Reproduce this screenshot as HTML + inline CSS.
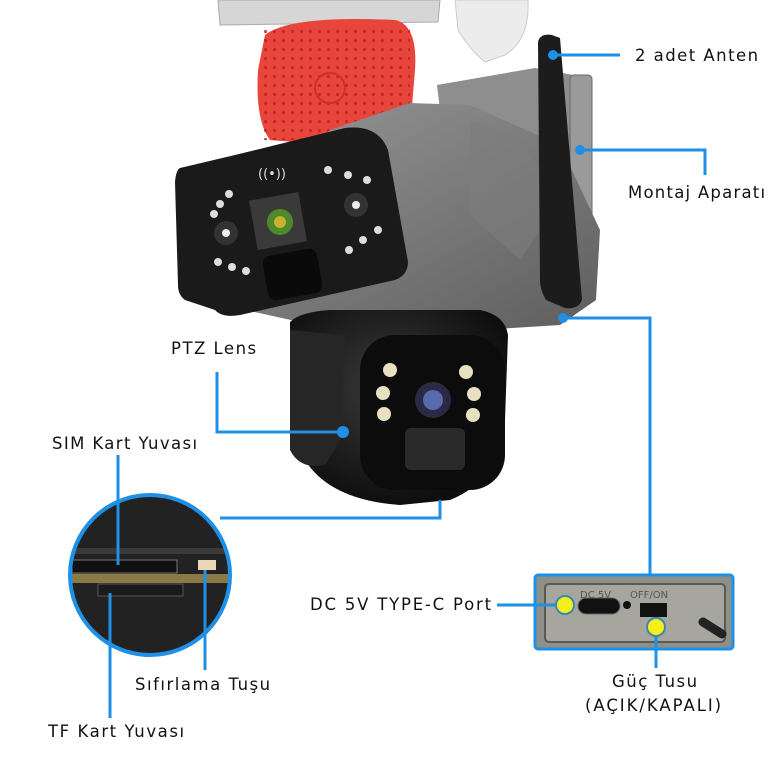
<!DOCTYPE html>
<html><head><meta charset="utf-8"><style>
html,body{margin:0;padding:0;background:#fff;}
svg{display:block;}
text{font-family:"DejaVu Sans","Liberation Sans",sans-serif;font-size:16.5px;fill:#111;letter-spacing:0.9px;}
</style></head><body>
<svg width="780" height="780" viewBox="0 0 780 780" xmlns="http://www.w3.org/2000/svg">
<defs>
<linearGradient id="gb" x1="0" y1="0" x2="1" y2="1"><stop offset="0" stop-color="#9a9a9a"/><stop offset="1" stop-color="#5e5e5e"/></linearGradient>
<radialGradient id="dome" cx="0.45" cy="0.4" r="0.6"><stop offset="0" stop-color="#3a3a3a"/><stop offset="1" stop-color="#0e0e0e"/></radialGradient>
<pattern id="holes" width="9" height="9" patternUnits="userSpaceOnUse"><circle cx="4.5" cy="4.5" r="1.6" fill="#b8241c"/></pattern>
<clipPath id="cc"><circle cx="150" cy="575" r="80"/></clipPath>
</defs>
<polygon points="218,0 440,0 438,22 220,25" fill="#d6d6d6" stroke="#aaa"/>
<path d="M455,0 L528,0 Q530,40 505,55 L485,62 Q470,50 458,30 Z" fill="#ececec" stroke="#ccc"/>
<path d="M265,35 Q290,15 395,20 Q418,25 415,70 L410,130 Q400,145 330,145 L270,140 Q255,120 258,70 Z" fill="#e8453c"/>
<rect x="262" y="25" width="148" height="115" fill="url(#holes)" opacity="0.8"/>
<circle cx="330" cy="88" r="15" fill="none" stroke="#c53229" stroke-width="2"/>
<polygon points="437,85 535,68 590,78 592,230 580,240 440,110" fill="#8e8e8e"/>
<rect x="570" y="75" width="22" height="160" rx="4" fill="#9a9a9a" stroke="#666"/>
<path d="M330,130 L410,103 L470,105 L560,145 L600,230 L596,300 L560,325 L480,330 L300,322 L200,300 L180,260 Z" fill="url(#gb)"/>
<polygon points="470,120 520,140 560,200 520,260 470,215" fill="#7d7d7d" opacity="0.6"/>
<path d="M538,42 Q540,33 552,35 L560,38 L582,300 Q578,310 565,308 L546,300 Q540,290 540,280 Z" fill="#1c1c1c"/>
<path d="M180,168 L235,155 L345,128 Q378,124 388,150 L408,262 Q408,275 395,280 L240,315 Q222,318 215,310 L185,300 Q178,295 178,285 L175,182 Q176,170 180,168 Z" fill="#1a1a1a"/>
<rect x="253" y="196" width="50" height="50" fill="#3a3a3a" transform="rotate(-10 278 221)"/>
<circle cx="280" cy="222" r="13" fill="#4d8a2a"/><circle cx="280" cy="222" r="6" fill="#c8b030"/>
<rect x="265" y="252" width="55" height="45" rx="8" fill="#0a0a0a" transform="rotate(-10 292 274)"/>
<circle cx="226" cy="233" r="12" fill="#333"/><circle cx="226" cy="233" r="4" fill="#eee"/>
<circle cx="356" cy="205" r="12" fill="#333"/><circle cx="356" cy="205" r="4" fill="#eee"/>
<g fill="#ddd"><circle cx="214" cy="214" r="4"/><circle cx="220" cy="204" r="4"/><circle cx="229" cy="194" r="4"/><circle cx="218" cy="262" r="4"/><circle cx="232" cy="267" r="4"/><circle cx="246" cy="271" r="4"/><circle cx="328" cy="170" r="4"/><circle cx="348" cy="175" r="4"/><circle cx="367" cy="180" r="4"/><circle cx="378" cy="230" r="4"/><circle cx="363" cy="240" r="4"/><circle cx="349" cy="250" r="4"/></g>
<text x="258" y="178" style="font-size:13px;fill:#ddd;letter-spacing:0">((•))</text>
<path d="M290,322 Q300,312 330,310 L480,310 Q505,315 508,335 L505,420 Q500,480 450,500 L400,505 Q330,500 305,460 Q290,440 290,410 Z" fill="url(#dome)"/>
<path d="M290,330 L290,450 Q300,470 325,465 L340,440 L345,335 Z" fill="#262626"/>
<rect x="360" y="335" width="145" height="155" rx="35" fill="#0c0c0c"/>
<g fill="#e8e0c0"><circle cx="390" cy="370" r="7"/><circle cx="383" cy="393" r="7"/><circle cx="384" cy="414" r="7"/><circle cx="466" cy="372" r="7"/><circle cx="474" cy="394" r="7"/><circle cx="473" cy="415" r="7"/></g>
<circle cx="433" cy="400" r="18" fill="#2a2a44"/><circle cx="433" cy="400" r="10" fill="#5a6ab0"/>
<rect x="405" y="428" width="60" height="42" rx="6" fill="#2a2a2a"/>
<g clip-path="url(#cc)">
<rect x="60" y="490" width="180" height="180" fill="#222"/>
<rect x="60" y="548" width="180" height="6" fill="#3a3a3a"/>
<rect x="72" y="560" width="105" height="13" fill="#111" stroke="#777"/>
<rect x="65" y="574" width="175" height="9" fill="#8a7a48"/>
<rect x="98" y="584" width="85" height="12" fill="#1a1a1a" stroke="#555"/>
<rect x="198" y="560" width="18" height="10" fill="#e8d8b8"/>
</g>
<circle cx="150" cy="575" r="80" fill="none" stroke="#1e90e6" stroke-width="4"/>
<rect x="535" y="575" width="198" height="74" rx="3" fill="#8f8f8a" stroke="#1e90e6" stroke-width="3"/>
<rect x="545" y="584" width="180" height="58" rx="4" fill="#a6a59e" stroke="#5a5a55" stroke-width="2"/>
<rect x="578" y="598" width="42" height="16" rx="8" fill="#111" stroke="#666"/>
<circle cx="627" cy="605" r="4" fill="#111"/>
<rect x="640" y="603" width="27" height="14" fill="#111"/>
<line x1="703" y1="622" x2="722" y2="634" stroke="#222" stroke-width="9" stroke-linecap="round"/>
<text x="580" y="598" style="font-size:10px;fill:#555;letter-spacing:0">DC 5V</text>
<text x="630" y="598" style="font-size:10px;fill:#555;letter-spacing:0">OFF/ON</text>
<g stroke="#1e90e6" stroke-width="3" fill="none">
<path d="M553,55 H620"/>
<path d="M580,150 H705 V175"/>
<path d="M217,372 V432 H343"/>
<path d="M563,318 H650 V575"/>
<path d="M118,455 V565"/>
<path d="M220,518 H440 V500"/>
<path d="M110,593 V718"/>
<path d="M205,570 V670"/>
<path d="M497,605 H560"/>
<path d="M656,628 V668"/>
</g>
<g fill="#1e90e6"><circle cx="553" cy="55" r="5"/><circle cx="580" cy="150" r="5"/><circle cx="343" cy="432" r="6"/><circle cx="563" cy="318" r="5"/></g>
<circle cx="565" cy="605" r="9" fill="#f2ef1a" stroke="#3a8ab0" stroke-width="2"/>
<circle cx="656" cy="627" r="9" fill="#f2ef1a" stroke="#3a8ab0" stroke-width="2"/>
<text x="635" y="61" textLength="124">2 adet Anten</text>
<text x="628" y="198" textLength="138">Montaj Aparatı</text>
<text x="171" y="354" textLength="86">PTZ Lens</text>
<text x="52" y="449" textLength="146">SIM Kart Yuvası</text>
<text x="310" y="610" textLength="182">DC 5V TYPE-C Port</text>
<text x="135" y="690" textLength="136">Sıfırlama Tuşu</text>
<text x="612" y="687" textLength="86">Güç Tusu</text>
<text x="585" y="711" textLength="137">(AÇIK/KAPALI)</text>
<text x="48" y="737" textLength="137">TF Kart Yuvası</text>
</svg>
</body></html>
